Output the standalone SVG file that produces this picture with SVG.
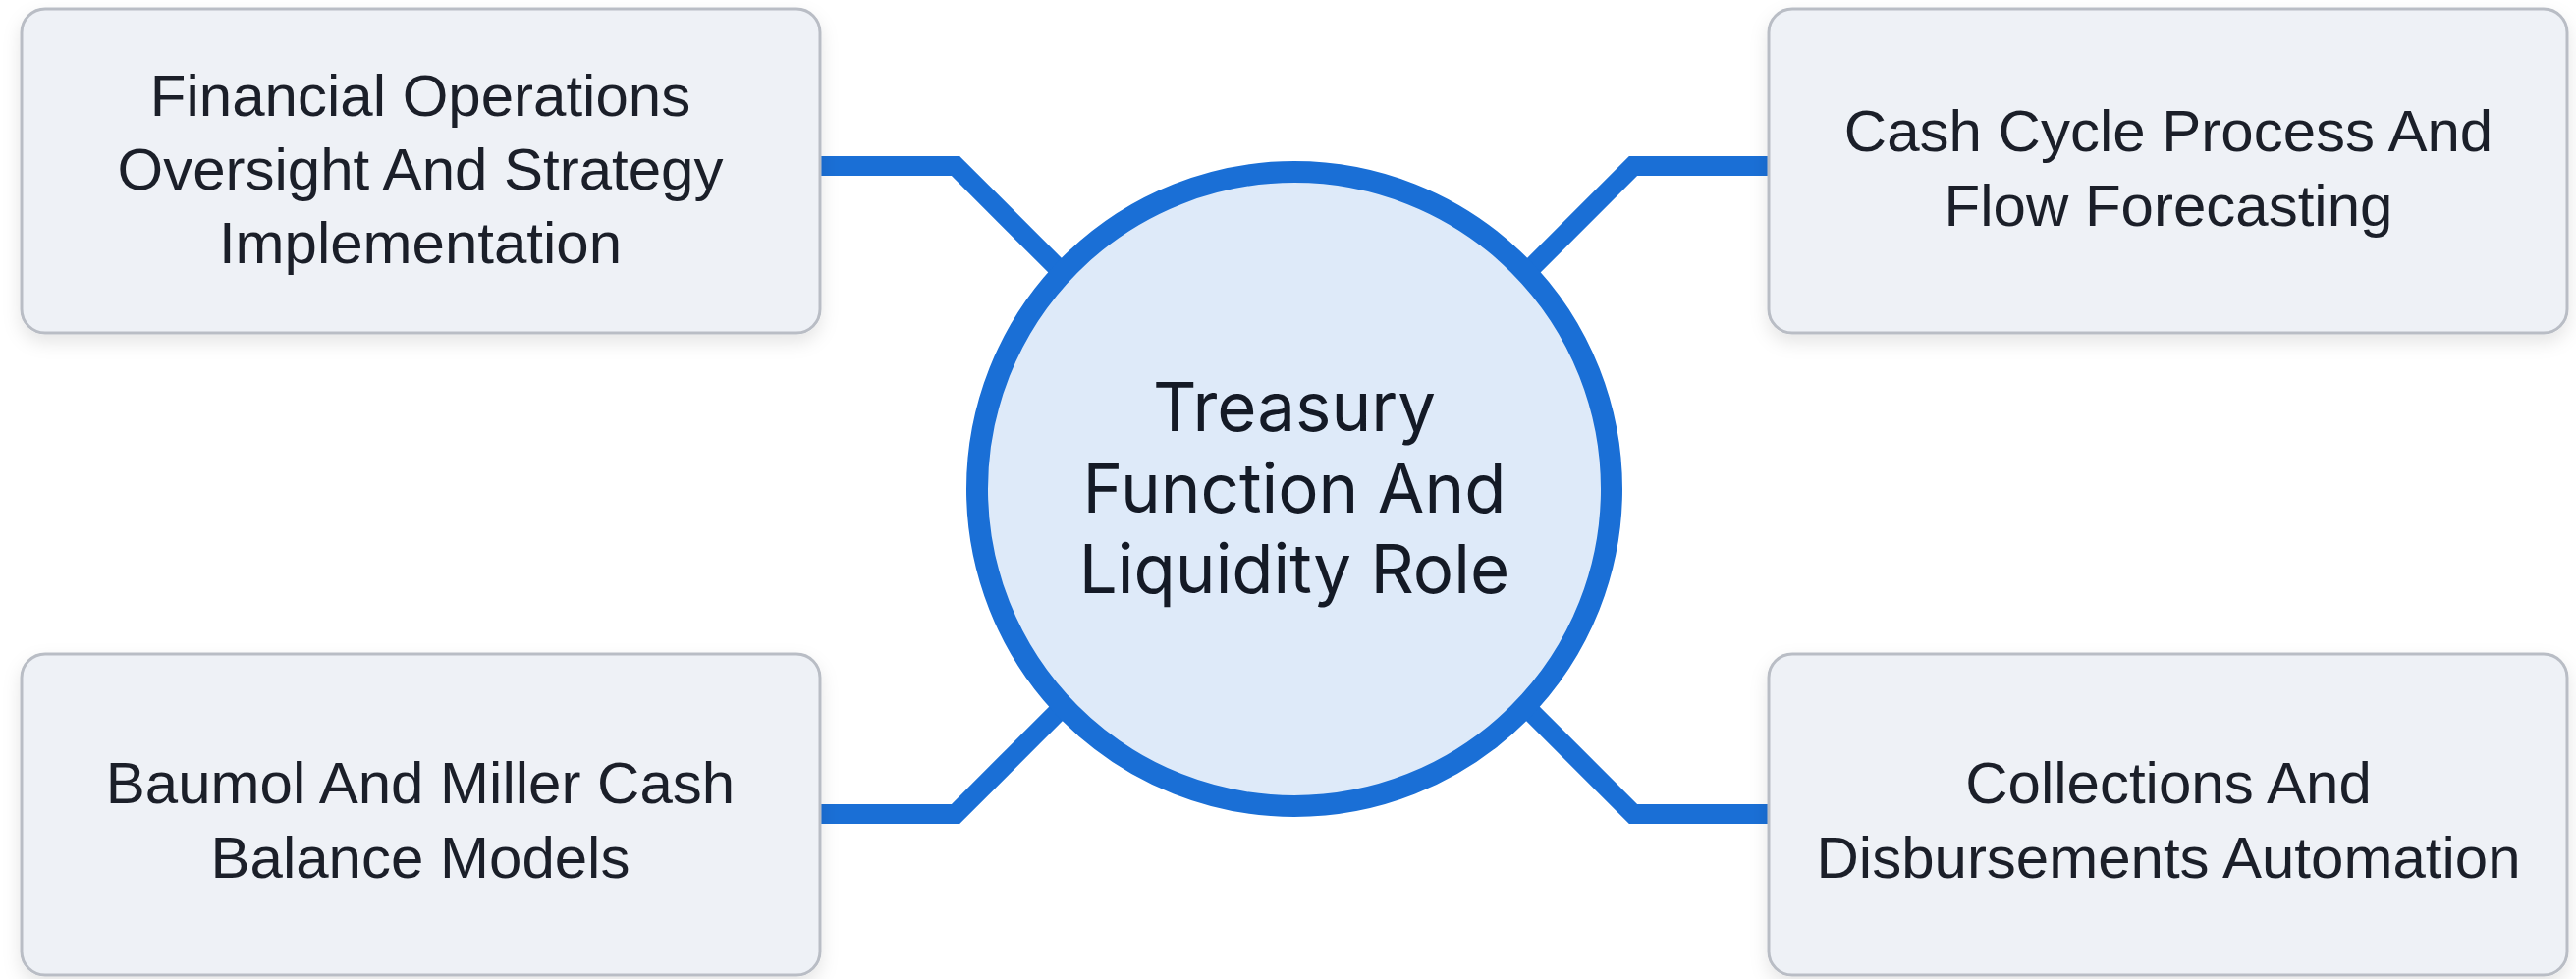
<svg xmlns="http://www.w3.org/2000/svg" width="2623" height="997" viewBox="0 0 2623 997">
  <style>
    .box { fill: #eef1f6; stroke: #b9bdc5; stroke-width: 3; filter: url(#shadow); }
    .lbl { font-family: "Liberation Sans", Arial, sans-serif; font-size: 60px; fill: #1b1f29; text-anchor: middle; }
    .ctr { font-family: Inter, "Liberation Sans", sans-serif; font-size: 69px; fill: #141a26; text-anchor: middle; }
    .conn { fill: none; stroke: #1a6fd6; stroke-width: 20; stroke-linejoin: miter; }
  </style>
  <defs>
    <filter id="shadow" x="-10%" y="-10%" width="120%" height="130%">
      <feDropShadow dx="0" dy="8" stdDeviation="9" flood-color="#000000" flood-opacity="0.10"/>
    </filter>
  </defs>
  <rect width="2623" height="997" fill="#ffffff"/>
  <g id="connectors">
    <polyline class="conn" points="836,169 973,169 1086,282"/>
    <polyline class="conn" points="1800,169 1663,169 1550,282"/>
    <polyline class="conn" points="836,829 973,829 1086,716"/>
    <polyline class="conn" points="1800,829 1663,829 1550,716"/>
  </g>
  <g id="center">
    <circle cx="1318" cy="498" r="323" fill="#deeaf9" stroke="#1a6fd6" stroke-width="22"/>
    <text class="ctr" x="1318" y="439">Treasury</text>
    <text class="ctr" x="1318" y="522">Function And</text>
    <text class="ctr" x="1318" y="604">Liquidity Role</text>
  </g>
  <g id="node-financial-operations">
    <rect class="box" x="22" y="9" width="813" height="330" rx="24"/>
    <text class="lbl" x="428" y="118">Financial Operations</text>
    <text class="lbl" x="428" y="193">Oversight And Strategy</text>
    <text class="lbl" x="428" y="268">Implementation</text>
  </g>
  <g id="node-cash-cycle">
    <rect class="box" x="1801" y="9" width="813" height="330" rx="24"/>
    <text class="lbl" x="2208" y="154">Cash Cycle Process And</text>
    <text class="lbl" x="2208" y="230">Flow Forecasting</text>
  </g>
  <g id="node-baumol-miller">
    <rect class="box" x="22" y="666" width="813" height="327" rx="24"/>
    <text class="lbl" x="428" y="818">Baumol And Miller Cash</text>
    <text class="lbl" x="428" y="894">Balance Models</text>
  </g>
  <g id="node-collections">
    <rect class="box" x="1801" y="666" width="813" height="327" rx="24"/>
    <text class="lbl" x="2208" y="818">Collections And</text>
    <text class="lbl" x="2208" y="894">Disbursements Automation</text>
  </g>
</svg>
